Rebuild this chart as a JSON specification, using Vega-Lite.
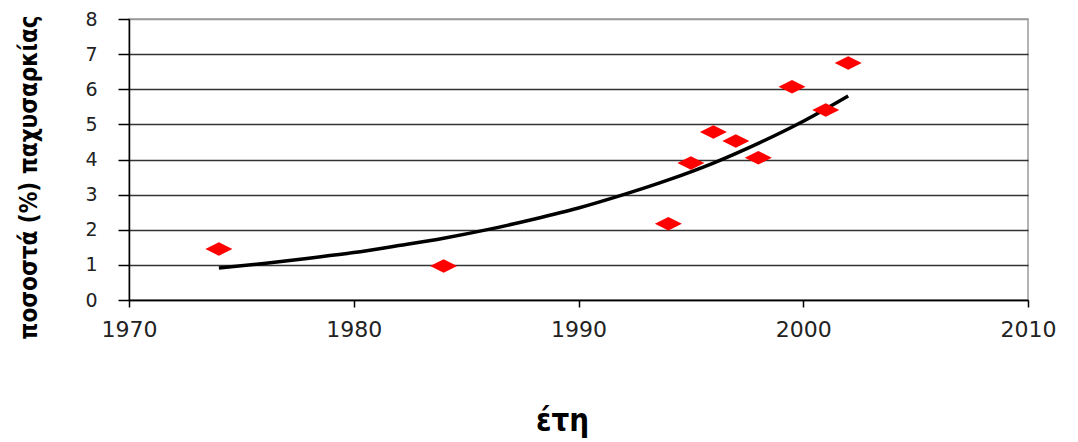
{
  "$schema": "https://vega.github.io/schema/vega-lite/v6.json",
  "autosize": "none",
  "width": 899,
  "height": 281,
  "padding": {"left": 129, "top": 19, "right": 50, "bottom": 142},
  "background": "white",
  "config": {
    "view": {"stroke": "#9a9a9a", "strokeWidth": 1.5, "fill": "white"}
  },
  "datasets": {
    "observed": [
      {"year": 1974, "pct": 1.45},
      {"year": 1984, "pct": 0.97},
      {"year": 1994, "pct": 2.17},
      {"year": 1995, "pct": 3.9},
      {"year": 1996, "pct": 4.78},
      {"year": 1997, "pct": 4.53},
      {"year": 1998, "pct": 4.05},
      {"year": 1999.5, "pct": 6.07},
      {"year": 2001, "pct": 5.41},
      {"year": 2002, "pct": 6.75}
    ],
    "trend": [
      {"year": 1974, "pct": 0.91},
      {"year": 1976, "pct": 1.04},
      {"year": 1978, "pct": 1.19},
      {"year": 1980, "pct": 1.35},
      {"year": 1982, "pct": 1.55},
      {"year": 1984, "pct": 1.76},
      {"year": 1986, "pct": 2.01},
      {"year": 1988, "pct": 2.3},
      {"year": 1990, "pct": 2.62},
      {"year": 1992, "pct": 3.0},
      {"year": 1994, "pct": 3.42},
      {"year": 1996, "pct": 3.9},
      {"year": 1998, "pct": 4.46},
      {"year": 2000, "pct": 5.09},
      {"year": 2002, "pct": 5.81}
    ]
  },
  "encoding": {
    "x": {
      "field": "year",
      "type": "quantitative",
      "scale": {"domain": [1970, 2010], "nice": false, "zero": false},
      "axis": {
        "title": "έτη",
        "values": [1970, 1980, 1990, 2000, 2010],
        "format": "d",
        "grid": false,
        "domainColor": "#000000",
        "domainWidth": 1.5,
        "tickColor": "#000000",
        "tickWidth": 1.5,
        "tickSize": 7,
        "labelFont": "DejaVu Sans",
        "labelFontSize": 22,
        "labelColor": "#222222",
        "labelPadding": 12,
        "labelFlush": false,
        "titleFont": "DejaVu Sans Condensed",
        "titleFontWeight": "bold",
        "titleFontSize": 31,
        "titleColor": "#000000",
        "titleAnchor": "start",
        "titleAlign": "center",
        "titleBaseline": "alphabetic",
        "titleX": 433,
        "titleY": 130
      }
    },
    "y": {
      "field": "pct",
      "type": "quantitative",
      "scale": {"domain": [0, 8], "nice": false},
      "axis": {
        "title": "ποσοστά (%) παχυσαρκίας",
        "values": [0, 1, 2, 3, 4, 5, 6, 7, 8],
        "grid": true,
        "gridColor": {"condition": {"test": "datum.value == 8", "value": "#9a9a9a"}, "value": "#333333"},
        "gridWidth": 1.5,
        "domainColor": "#000000",
        "domainWidth": 1.5,
        "tickColor": "#000000",
        "tickWidth": 1.5,
        "tickSize": 11,
        "labelFont": "DejaVu Sans",
        "labelFontSize": 19,
        "labelColor": "#222222",
        "labelPadding": 21,
        "titleFont": "DejaVu Sans Condensed",
        "titleFontWeight": "bold",
        "titleFontSize": 24,
        "titleColor": "#000000",
        "titleAngle": -90,
        "titleAlign": "center",
        "titleBaseline": "middle",
        "titleX": -100,
        "titleY": 158
      }
    }
  },
  "layer": [
    {
      "data": {"name": "trend"},
      "mark": {"type": "line", "color": "#000000", "strokeWidth": 3.5, "interpolate": "monotone"}
    },
    {
      "data": {"name": "observed"},
      "mark": {
        "type": "point",
        "shape": "M -1 0 L 0 -0.5 L 1 0 L 0 0.5 Z",
        "size": 729,
        "filled": true,
        "color": "#ff0000",
        "opacity": 1
      }
    }
  ]
}
